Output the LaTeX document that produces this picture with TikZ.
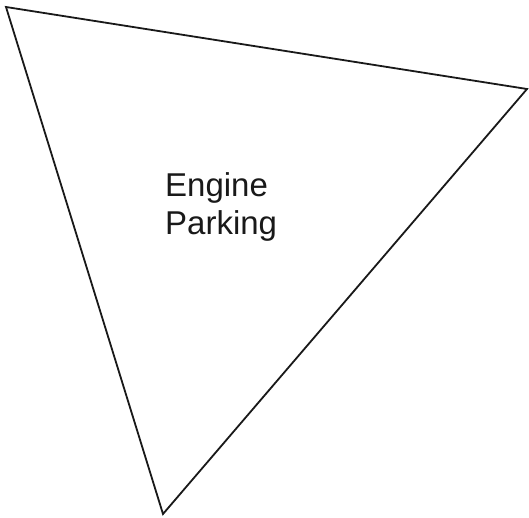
\documentclass[tikz,border=0pt]{standalone}
\usepackage{fontspec}
\setmainfont{Liberation Sans}
\begin{document}
\begin{tikzpicture}[x=1pt,y=-1pt,
  outline/.style={draw=black!90,line width=1.8pt,line join=miter},
  label/.style={font=\fontsize{33}{38}\selectfont,align=left,inner sep=0pt,text=black!90}]
\useasboundingbox (0,0) rectangle (529,518);
\coordinate (A) at (6,7);
\coordinate (B) at (527,89);
\coordinate (C) at (163,514);
\draw[outline] (A) -- (B) -- (C) -- cycle;
\node[label,anchor=base west] (t) at (165,235) {Engine\\Parking};
\end{tikzpicture}
\end{document}
